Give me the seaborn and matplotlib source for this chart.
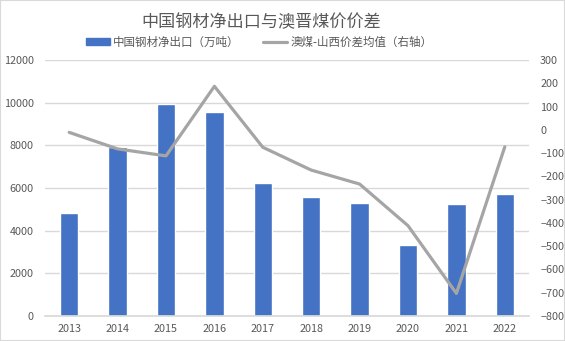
import matplotlib
matplotlib.use("Agg")
import matplotlib.pyplot as plt
import seaborn as sns
import pandas as pd
from matplotlib.patches import Rectangle, Patch
from matplotlib.lines import Line2D

# Annual data
years = ["2013", "2014", "2015", "2016", "2017", "2018", "2019", "2020", "2021", "2022"]
steel_net_exports = [4820, 7940, 9930, 9550, 6220, 5600, 5280, 3330, 5250, 5710]   # 万吨
coal_price_spread = [-11, -82, -112, 187, -75, -173, -233, -412, -703, -73]        # 澳煤-山西价差均值

bar_color = "#4472C4"
line_color = "#A5A5A5"
text_color = "#595959"
grid_color = "#D9D9D9"

sns.set_theme(style="white")
plt.rcParams["font.family"] = ["Noto Sans CJK SC", "DejaVu Sans"]

df = pd.DataFrame({"year": years, "exports": steel_net_exports, "spread": coal_price_spread})

fig, ax = plt.subplots(figsize=(5.65, 3.41), dpi=100)
fig.subplots_adjust(left=45 / 565, right=529 / 565, top=1 - 60 / 341, bottom=1 - 316 / 341)

sns.barplot(data=df, x="year", y="exports", color=bar_color, width=0.38,
            saturation=1, ax=ax, zorder=2)
ax.set_ylim(0, 12000)
ax.set_yticks(range(0, 12001, 2000))
ax.yaxis.grid(True, color=grid_color, linewidth=1)
ax.set_axisbelow(True)
ax.set_xlabel("")
ax.set_ylabel("")

ax2 = ax.twinx()
sns.lineplot(data=df, x="year", y="spread", color=line_color, linewidth=2.3,
             ax=ax2, sort=False)
ax2.set_ylim(-800, 300)
ax2.set_yticks(range(-800, 301, 100))
ax2.set_ylabel("")
ax2.set_xlim(-0.5, len(years) - 0.5)
ax.set_xlim(-0.5, len(years) - 0.5)

for a in (ax, ax2):
    for s in a.spines.values():
        s.set_visible(False)
    a.tick_params(axis="both", length=0, labelsize=7.8, colors=text_color)
ax.spines["bottom"].set_visible(True)
ax.spines["bottom"].set_color(grid_color)
ax.tick_params(axis="y", pad=8)
ax.tick_params(axis="x", pad=6)
ax2.tick_params(axis="y", pad=8)

fig.text(261 / 565, 1 - 22 / 341, "中国钢材净出口与澳晋煤价价差", ha="center", va="center",
         fontsize=12.3, color=text_color)

handles = [Patch(facecolor=bar_color, edgecolor=bar_color),
           Line2D([0], [0], color=line_color, linewidth=2.3)]
fig.legend(handles, ["中国钢材净出口（万吨）", "澳煤-山西价差均值（右轴）"],
           loc="center", bbox_to_anchor=(259 / 565, 1 - 42 / 341), ncol=2, frameon=False,
           fontsize=8.3, labelcolor=text_color, handlelength=2.1, handleheight=0.5,
           columnspacing=2.0, handletextpad=0.3)

fig.patches.append(Rectangle((0, 0), 1, 1, transform=fig.transFigure, fill=False,
                             edgecolor=grid_color, linewidth=1.5))

fig.savefig("out.png", dpi=100)
